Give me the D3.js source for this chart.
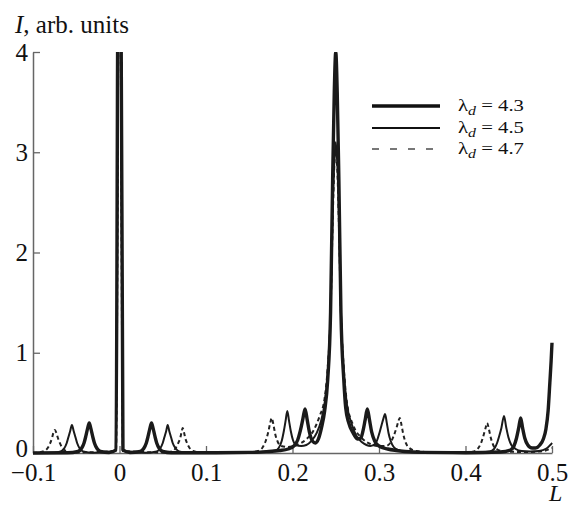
<!DOCTYPE html>
<html>
<head>
<meta charset="utf-8">
<script src="https://cdn.jsdelivr.net/npm/d3@7"></script>
<style>
body { margin: 0; background: #fff; }
</style>
</head>
<body>
<div id="chart"></div>
<script>
// tick values
var xTicks = [-0.1, 0, 0.1, 0.2, 0.3, 0.4, 0.5];
var yTicks = [0, 1, 2, 3, 4];
var legendLabels = ["4.3", "4.5", "4.7"];

// lambda_d = 4.3 (thick)  [L, I]
var series43 = [
	[-0.1, 0], [-0.06, 0.002], [-0.048, 0.015], [-0.044, 0.045], [-0.041, 0.10], [-0.039, 0.165],
	[-0.037, 0.24], [-0.035, 0.30], [-0.033, 0.24], [-0.031, 0.165], [-0.029, 0.10], [-0.026, 0.045],
	[-0.022, 0.015], [-0.012, 0.005], [-0.004, 0.03], [-0.0015, 5], [0.0015, 5], [0.004, 0.03],
	[0.012, 0.005], [0.024, 0.015], [0.028, 0.045], [0.031, 0.10], [0.033, 0.165], [0.035, 0.24],
	[0.037, 0.30], [0.039, 0.24], [0.041, 0.165], [0.043, 0.10], [0.046, 0.045], [0.05, 0.015],
	[0.06, 0.003], [0.1, 0.002], [0.15, 0.006], [0.17, 0.014], [0.185, 0.025], [0.195, 0.04],
	[0.2015, 0.07], [0.206, 0.13], [0.209, 0.22], [0.212, 0.34], [0.2145, 0.44], [0.217, 0.33],
	[0.2195, 0.21], [0.223, 0.12], [0.2265, 0.1], [0.23, 0.14], [0.2335, 0.25], [0.2372, 0.42],
	[0.2407, 0.73], [0.244, 1.4], [0.2464, 2.73], [0.2483, 3.6], [0.25, 4.0], [0.2517, 3.6],
	[0.2536, 2.73], [0.256, 1.4], [0.2593, 0.73], [0.2615, 0.45], [0.265, 0.3], [0.27, 0.2],
	[0.275, 0.14], [0.279, 0.15], [0.2815, 0.22], [0.284, 0.33], [0.2865, 0.44], [0.289, 0.33],
	[0.2915, 0.21], [0.295, 0.12], [0.3, 0.07], [0.31, 0.04], [0.32, 0.025], [0.33, 0.015],
	[0.35, 0.006], [0.4, 0.003], [0.44, 0.01], [0.452, 0.03], [0.456, 0.07], [0.459, 0.15],
	[0.4615, 0.25], [0.4638, 0.35], [0.466, 0.25], [0.4685, 0.15], [0.472, 0.08], [0.477, 0.05],
	[0.481, 0.05], [0.486, 0.08], [0.49, 0.14], [0.493, 0.24], [0.4955, 0.42], [0.4975, 0.7],
	[0.499, 0.92], [0.5, 1.1]
];

// lambda_d = 4.5 (thin)
var series45 = [
	[-0.1, 0], [-0.075, 0.003], [-0.068, 0.015], [-0.064, 0.045], [-0.061, 0.10], [-0.059, 0.16],
	[-0.057, 0.22], [-0.055, 0.28], [-0.053, 0.22], [-0.051, 0.16], [-0.049, 0.10], [-0.046, 0.045],
	[-0.042, 0.015], [-0.03, 0.003], [-0.004, 0.02], [-0.001, 5], [0.001, 5], [0.004, 0.02],
	[0.03, 0.003], [0.043, 0.015], [0.047, 0.045], [0.05, 0.10], [0.052, 0.16], [0.054, 0.22],
	[0.0557, 0.28], [0.0575, 0.22], [0.0595, 0.16], [0.0615, 0.10], [0.065, 0.045], [0.069, 0.015],
	[0.08, 0.003], [0.15, 0.005], [0.17, 0.015], [0.18, 0.025], [0.184, 0.05], [0.1875, 0.12],
	[0.19, 0.22], [0.192, 0.32], [0.194, 0.42], [0.196, 0.32], [0.198, 0.22], [0.2005, 0.13],
	[0.204, 0.08], [0.21, 0.07], [0.216, 0.08], [0.222, 0.12], [0.228, 0.2], [0.233, 0.32],
	[0.2372, 0.5], [0.2407, 0.8], [0.244, 1.4], [0.2464, 2.4], [0.2483, 2.9], [0.25, 3.1],
	[0.2517, 2.9], [0.2536, 2.4], [0.256, 1.4], [0.2593, 0.8], [0.263, 0.48], [0.268, 0.3],
	[0.274, 0.17], [0.28, 0.11], [0.2855, 0.08], [0.29, 0.07], [0.294, 0.08], [0.2975, 0.12],
	[0.3005, 0.2], [0.303, 0.28], [0.305, 0.34], [0.307, 0.39], [0.309, 0.3], [0.311, 0.2],
	[0.3135, 0.12], [0.317, 0.06], [0.322, 0.03], [0.33, 0.015], [0.36, 0.005], [0.41, 0.003],
	[0.428, 0.015], [0.433, 0.04], [0.4365, 0.1], [0.439, 0.17], [0.4415, 0.25], [0.4445, 0.37],
	[0.447, 0.26], [0.4495, 0.16], [0.453, 0.08], [0.458, 0.04], [0.465, 0.02], [0.475, 0.015],
	[0.485, 0.02], [0.493, 0.04], [0.498, 0.08], [0.5, 0.1]
];

// lambda_d = 4.7 (dashed)
var series47 = [
	[-0.1, 0], [-0.093, 0.005], [-0.087, 0.02], [-0.083, 0.05], [-0.08, 0.1], [-0.078, 0.15],
	[-0.0765, 0.2], [-0.0746, 0.23], [-0.073, 0.2], [-0.0712, 0.15], [-0.069, 0.1], [-0.066, 0.05],
	[-0.062, 0.02], [-0.055, 0.005], [-0.004, 0.02], [-0.0005, 5], [0.0005, 5], [0.004, 0.02],
	[0.055, 0.005], [0.062, 0.02], [0.065, 0.05], [0.068, 0.1], [0.0705, 0.16], [0.0718, 0.21],
	[0.073, 0.25], [0.0745, 0.21], [0.076, 0.15], [0.078, 0.1], [0.081, 0.05], [0.085, 0.02],
	[0.095, 0.005], [0.15, 0.005], [0.16, 0.02], [0.165, 0.05], [0.169, 0.12], [0.172, 0.21],
	[0.174, 0.29], [0.176, 0.35], [0.178, 0.28], [0.18, 0.19], [0.183, 0.11], [0.187, 0.07],
	[0.195, 0.06], [0.205, 0.08], [0.215, 0.13], [0.224, 0.22], [0.231, 0.36], [0.2372, 0.55],
	[0.2407, 0.85], [0.244, 1.4], [0.2464, 2.3], [0.2483, 2.85], [0.25, 3.0], [0.2517, 2.85],
	[0.2536, 2.3], [0.256, 1.4], [0.2593, 0.85], [0.263, 0.5], [0.27, 0.28], [0.28, 0.15],
	[0.29, 0.09], [0.3, 0.07], [0.308, 0.07], [0.313, 0.1], [0.317, 0.17], [0.3205, 0.26],
	[0.3225, 0.32], [0.324, 0.35], [0.326, 0.28], [0.328, 0.19], [0.331, 0.1], [0.335, 0.05],
	[0.343, 0.02], [0.36, 0.008], [0.4, 0.005], [0.41, 0.015], [0.414, 0.04], [0.418, 0.1],
	[0.421, 0.18], [0.4232, 0.25], [0.425, 0.30], [0.427, 0.24], [0.429, 0.16], [0.432, 0.08],
	[0.436, 0.04], [0.445, 0.015], [0.47, 0.01], [0.49, 0.02], [0.5, 0.05]
];

var SERIF = "'Liberation Serif'";

function intensityChart() {
	//size of area
	var width = 570;
	var height = 508;

	var x = d3.scaleLinear().domain([-0.1, 0.5]).range([33, 552]);
	var y = d3.scaleLinear().domain([0, 4]).range([453, 52]);

	var svg = d3.select('#chart')
		.append('svg')
		.attr('width', width)
		.attr('height', height);

	svg.append('clipPath').attr('id', 'plotClip')
		.append('rect')
		.attr('x', x(-0.1)).attr('y', y(4))
		.attr('width', x(0.5) - x(-0.1) + 4)
		.attr('height', y(0) - y(4) + 4);

	var fmt = function(d) { return d === 0 ? '0' : d3.format('.1f')(d); };

	//axes
	var xAxis = svg.append('g')
		.attr('transform', 'translate(0,' + y(0) + ')')
		.call(d3.axisBottom(x).tickValues(xTicks).tickSize(-7).tickSizeOuter(0).tickPadding(10).tickFormat(fmt));
	var yAxis = svg.append('g')
		.attr('transform', 'translate(' + x(-0.1) + ',0)')
		.call(d3.axisLeft(y).tickValues(yTicks).tickSize(-7).tickSizeOuter(0).tickPadding(5).tickFormat(d3.format('d')));

	[xAxis, yAxis].forEach(function(a) {
		a.select('.domain').attr('stroke', '#666').attr('stroke-width', 1.5);
		a.selectAll('.tick line').attr('stroke', '#666').attr('stroke-width', 1.3);
		a.selectAll('.tick text')
			.style('font-family', SERIF)
			.style('font-size', '25px')
			.attr('fill', '#111');
	});
	// lift the y "0" a little so it clears the x labels
	yAxis.selectAll('.tick text').filter(function(d) { return d === 0; }).attr('dy', '0.12em');

	var line = d3.line()
		.x(function(d) { return x(d[0]); })
		.y(function(d) { return y(d[1]); })
		.curve(d3.curveMonotoneX);

	var plot = svg.append('g').attr('clip-path', 'url(#plotClip)');

	plot.append('path').datum(series47)
		.attr('d', line).attr('fill', 'none')
		.attr('stroke', '#222').attr('stroke-width', 2)
		.attr('stroke-dasharray', '4,3');
	plot.append('path').datum(series45)
		.attr('d', line).attr('fill', 'none')
		.attr('stroke', '#1a1a1a').attr('stroke-width', 2);
	plot.append('path').datum(series43)
		.attr('d', line).attr('fill', 'none')
		.attr('stroke', '#1a1a1a').attr('stroke-width', 3.4)
		.attr('stroke-linejoin', 'round');

	//axis titles
	var title = svg.append('text').attr('x', 15).attr('y', 33)
		.style('font-family', SERIF).style('font-size', '25px').attr('fill', '#111');
	title.append('tspan').style('font-style', 'italic').text('I');
	title.append('tspan').text(', arb. units');

	svg.append('text').attr('x', 549).attr('y', 501)
		.style('font-family', SERIF).style('font-size', '24px')
		.style('font-style', 'italic').attr('fill', '#111').text('L');

	//legend
	var legendY = [106, 128, 149];
	var legendStyle = [
		{w: 3.4, dash: null, color: '#111'},
		{w: 2.2, dash: null, color: '#111'},
		{w: 2, dash: '7,11', color: '#777'}
	];
	legendLabels.forEach(function(lab, i) {
		var s = legendStyle[i];
		var l = svg.append('line')
			.attr('x1', 372).attr('x2', 440)
			.attr('y1', legendY[i]).attr('y2', legendY[i])
			.attr('stroke', s.color).attr('stroke-width', s.w);
		if (s.dash) l.attr('stroke-dasharray', s.dash);

		var t = svg.append('text')
			.attr('transform', 'translate(458,' + (legendY[i] + 5) + ') scale(1.22,1)')
			.style('font-family', SERIF)
			.style('font-size', '17px').attr('fill', '#111');
		t.append('tspan').text('\u03bb');
		t.append('tspan').attr('dy', 4).style('font-style', 'italic').style('font-size', '13px').text('d');
		t.append('tspan').attr('dy', -4).text(' = ' + lab);
	});
}

intensityChart();
</script>
</body>
</html>
